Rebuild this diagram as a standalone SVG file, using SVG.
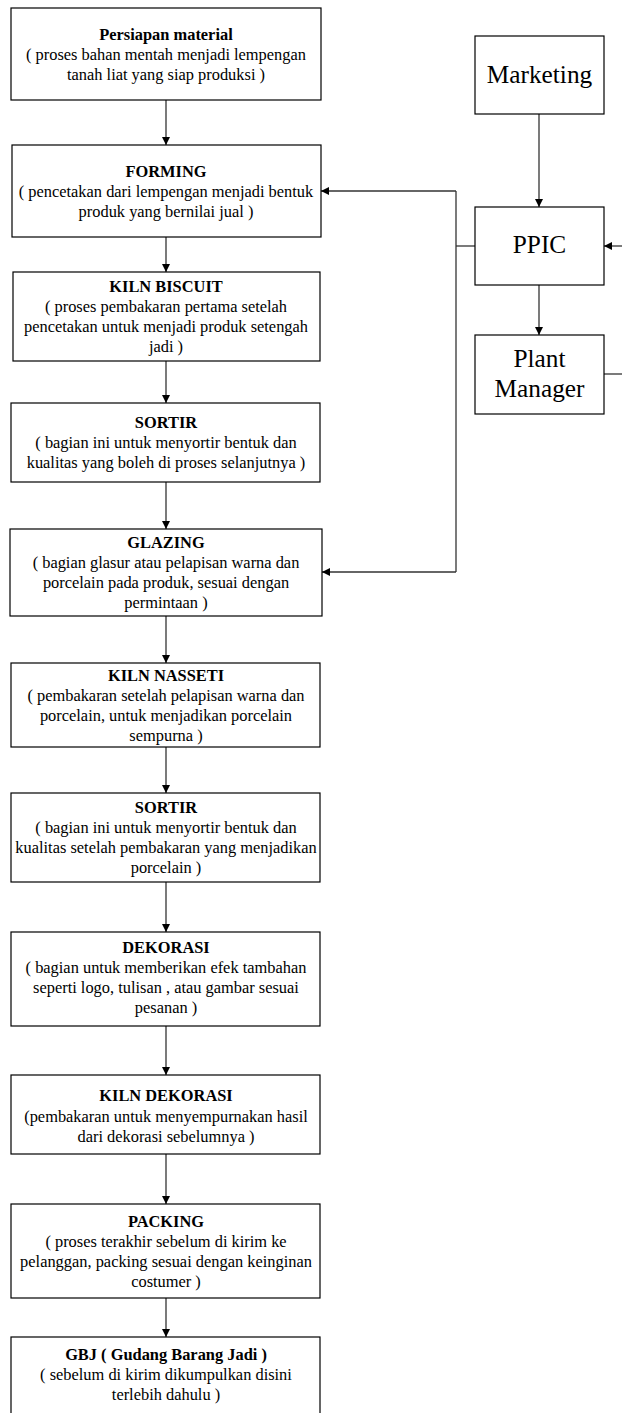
<svg xmlns="http://www.w3.org/2000/svg" width="622" height="1413" viewBox="0 0 622 1413">
<style>
.box{fill:#fff;stroke:#000;stroke-width:1.2}
.t{font-family:"Liberation Serif","Times New Roman",serif;font-size:16.4px;fill:#000;text-anchor:middle}
.b{font-weight:bold}
.big{font-family:"Liberation Serif","Times New Roman",serif;font-size:25.3px;fill:#000;text-anchor:middle}
.c{fill:none;stroke:#333;stroke-width:1.3}
</style>
<defs>
<marker id="ah" viewBox="0 0 10 10" refX="10" refY="5" markerWidth="8" markerHeight="8" markerUnits="userSpaceOnUse" orient="auto">
<path d="M0,0 L10,5 L0,10 Z" fill="#000"/>
</marker>
</defs>
<rect width="622" height="1413" fill="#fff"/>
<g id="connectors">
<line class="c" x1="166" y1="100" x2="166" y2="145" marker-end="url(#ah)"/>
<line class="c" x1="166" y1="237" x2="166" y2="272" marker-end="url(#ah)"/>
<line class="c" x1="166" y1="361" x2="166" y2="403" marker-end="url(#ah)"/>
<line class="c" x1="166" y1="482" x2="166" y2="529" marker-end="url(#ah)"/>
<line class="c" x1="166" y1="616" x2="166" y2="663" marker-end="url(#ah)"/>
<line class="c" x1="166" y1="747" x2="166" y2="793" marker-end="url(#ah)"/>
<line class="c" x1="166" y1="882" x2="166" y2="932" marker-end="url(#ah)"/>
<line class="c" x1="166" y1="1026" x2="166" y2="1075" marker-end="url(#ah)"/>
<line class="c" x1="166" y1="1154" x2="166" y2="1204" marker-end="url(#ah)"/>
<line class="c" x1="166" y1="1298" x2="166" y2="1337" marker-end="url(#ah)"/>
<line class="c" x1="539" y1="114" x2="539" y2="207" marker-end="url(#ah)"/>
<line class="c" x1="539" y1="285" x2="539" y2="335" marker-end="url(#ah)"/>
<line class="c" x1="475" y1="246" x2="456" y2="246"/>
<line class="c" x1="456" y1="191" x2="456" y2="572"/>
<line class="c" x1="456" y1="191" x2="321" y2="191" marker-end="url(#ah)"/>
<line class="c" x1="456" y1="572" x2="322" y2="572" marker-end="url(#ah)"/>
<line class="c" x1="622" y1="246" x2="604" y2="246" marker-end="url(#ah)"/>
<line class="c" x1="604" y1="374" x2="622" y2="374"/>
</g>
<g id="persiapan">
<rect class="box" x="11" y="8" width="310" height="92"/>
<text class="t b" x="166" y="40">Persiapan material</text>
<text class="t" x="166" y="60">( proses bahan mentah menjadi lempengan</text>
<text class="t" x="166" y="80">tanah liat yang siap produksi )</text>
</g>
<g id="forming">
<rect class="box" x="12" y="145" width="309" height="92"/>
<text class="t b" x="166" y="177">FORMING</text>
<text class="t" x="166" y="197">( pencetakan dari lempengan menjadi bentuk</text>
<text class="t" x="166" y="217">produk yang bernilai jual )</text>
</g>
<g id="kiln-biscuit">
<rect class="box" x="13" y="272" width="307" height="89"/>
<text class="t b" x="166" y="292">KILN BISCUIT</text>
<text class="t" x="166" y="312">( proses pembakaran pertama setelah</text>
<text class="t" x="166" y="332">pencetakan untuk menjadi produk setengah</text>
<text class="t" x="166" y="352">jadi )</text>
</g>
<g id="sortir1">
<rect class="box" x="11" y="403" width="309" height="79"/>
<text class="t b" x="166" y="428">SORTIR</text>
<text class="t" x="166" y="448">( bagian ini untuk menyortir bentuk dan</text>
<text class="t" x="166" y="468">kualitas yang boleh di proses selanjutnya )</text>
</g>
<g id="glazing">
<rect class="box" x="10" y="529" width="312" height="87"/>
<text class="t b" x="166" y="548">GLAZING</text>
<text class="t" x="166" y="568">( bagian glasur atau pelapisan warna dan</text>
<text class="t" x="166" y="588">porcelain pada produk, sesuai dengan</text>
<text class="t" x="166" y="608">permintaan )</text>
</g>
<g id="kiln-nasseti">
<rect class="box" x="11" y="663" width="309" height="84"/>
<text class="t b" x="166" y="681">KILN NASSETI</text>
<text class="t" x="166" y="701">( pembakaran setelah pelapisan warna dan</text>
<text class="t" x="166" y="721">porcelain, untuk menjadikan porcelain</text>
<text class="t" x="166" y="741">sempurna )</text>
</g>
<g id="sortir2">
<rect class="box" x="11" y="793" width="309" height="89"/>
<text class="t b" x="166" y="813">SORTIR</text>
<text class="t" x="166" y="833">( bagian ini untuk menyortir bentuk dan</text>
<text class="t" x="166" y="853">kualitas setelah pembakaran yang menjadikan</text>
<text class="t" x="166" y="873">porcelain )</text>
</g>
<g id="dekorasi">
<rect class="box" x="11" y="932" width="309" height="94"/>
<text class="t b" x="166" y="953">DEKORASI</text>
<text class="t" x="166" y="973">( bagian untuk memberikan efek tambahan</text>
<text class="t" x="166" y="993">seperti logo, tulisan , atau gambar sesuai</text>
<text class="t" x="166" y="1013">pesanan )</text>
</g>
<g id="kiln-dekorasi">
<rect class="box" x="11" y="1075" width="309" height="79"/>
<text class="t b" x="166" y="1101">KILN DEKORASI</text>
<text class="t" x="166" y="1122">(pembakaran untuk menyempurnakan hasil</text>
<text class="t" x="166" y="1142">dari dekorasi sebelumnya )</text>
</g>
<g id="packing">
<rect class="box" x="11" y="1204" width="309" height="94"/>
<text class="t b" x="166" y="1227">PACKING</text>
<text class="t" x="166" y="1247">( proses terakhir sebelum di kirim ke</text>
<text class="t" x="166" y="1267">pelanggan, packing sesuai dengan keinginan</text>
<text class="t" x="166" y="1287">costumer )</text>
</g>
<g id="gbj">
<rect class="box" x="11" y="1337" width="309" height="90"/>
<text class="t b" x="166" y="1360">GBJ ( Gudang Barang Jadi )</text>
<text class="t" x="166" y="1380">( sebelum di kirim dikumpulkan disini</text>
<text class="t" x="166" y="1400">terlebih dahulu )</text>
</g>
<g id="marketing">
<rect class="box" x="475" y="36" width="129" height="78"/>
<text class="big" x="539.5" y="83">Marketing</text>
</g>
<g id="ppic">
<rect class="box" x="475" y="207" width="129" height="78"/>
<text class="big" x="539.5" y="253">PPIC</text>
</g>
<g id="plant-manager">
<rect class="box" x="475" y="335" width="129" height="79"/>
<text class="big" x="539.5" y="367">Plant</text>
<text class="big" x="539.5" y="397">Manager</text>
</g>
</svg>
